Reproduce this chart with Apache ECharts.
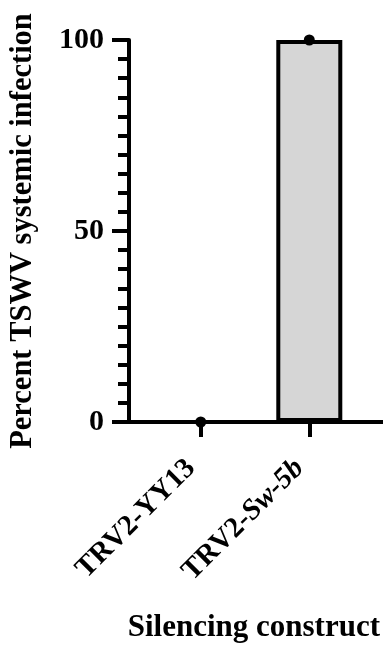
<!DOCTYPE html>
<html><head><meta charset="utf-8">
<script src="https://cdn.jsdelivr.net/npm/echarts@6/dist/echarts.min.js"></script>
<style>html,body{margin:0;padding:0;background:#fff}#c{width:383px;height:651px}</style>
</head><body><div id="c"></div>
<script>
const categories = ['TRV2-YY13', 'TRV2-Sw-5b'];
const barValues = [0, 100];
const pointValues = [0, 100];
const yTicks = [0, 50, 100];

const F = 'Liberation Serif';
const chart = echarts.init(document.getElementById('c'), null, {renderer: 'canvas'});
const idx = categories.map((_, i) => i);
chart.setOption({
  animation: false,
  textStyle: {fontFamily: F},
  grid: {left: 128, right: 0, top: 40, bottom: 229, containLabel: false},
  xAxis: {
    type: 'value', min: -0.661, max: 1.679,
    name: 'Silencing construct', nameLocation: 'end', nameGap: 0,
    nameTextStyle: {fontFamily: F, fontWeight: 'bold', fontSize: 31, color: '#000', align: 'right', verticalAlign: 'top', padding: [190, 3, 0, 0]},
    axisLine: {show: true, onZero: false, lineStyle: {color: '#000', width: 4}},
    axisTick: {show: true, customValues: idx, length: 15, lineStyle: {color: '#000', width: 4}},
    splitLine: {show: false},
    axisLabel: {
      customValues: idx, rotate: 45, margin: 32, color: '#000',
      fontFamily: F, fontWeight: 'bold', fontSize: 29, padding: [0, 14, 0, 0],
      formatter: v => {
        const s = categories[Math.round(v)] || '';
        const k = s.indexOf('Sw-5b');
        return k >= 0 ? '{n|' + s.slice(0, k) + '}{i|' + s.slice(k) + '}' : '{n|' + s + '}';
      },
      rich: {
        n: {fontFamily: F, fontWeight: 'bold', fontSize: 29, color: '#000'},
        i: {fontFamily: F, fontWeight: 'bold', fontStyle: 'italic', fontSize: 29, color: '#000'}
      }
    }
  },
  yAxis: {
    type: 'value', min: yTicks[0], max: yTicks[yTicks.length - 1], interval: 50,
    name: 'Percent TSWV systemic infection', nameLocation: 'middle', nameGap: 90, nameRotate: 90,
    nameTextStyle: {fontFamily: F, fontWeight: 'bold', fontSize: 30.5, color: '#000'},
    axisLine: {show: true, onZero: false, lineStyle: {color: '#000', width: 4}},
    axisTick: {show: true, length: 17, lineStyle: {color: '#000', width: 4}},
    minorTick: {show: true, splitNumber: 10, length: 11, lineStyle: {color: '#000', width: 4}},
    splitLine: {show: false},
    axisLabel: {margin: 25, color: '#000', fontFamily: F, fontWeight: 'bold', fontSize: 30}
  },
  series: [
    {
      type: 'bar', barWidth: 66,
      data: barValues.map((v, i) => [i, v]),
      itemStyle: {color: '#d6d6d6', borderColor: '#000', borderWidth: 4},
      z: 2
    },
    {
      type: 'scatter', symbol: 'circle', symbolSize: 11,
      data: pointValues.map((v, i) => [i, v]),
      itemStyle: {color: '#000', opacity: 1},
      clip: false, z: 5
    }
  ]
});
</script></body></html>
